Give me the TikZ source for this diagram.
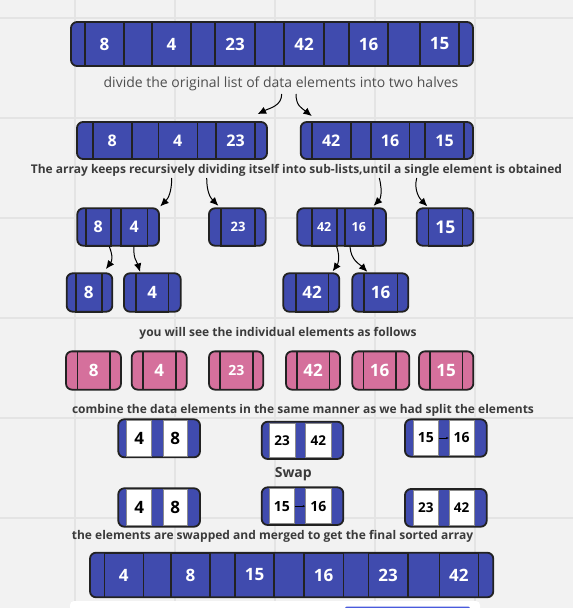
\documentclass[tikz,border=0pt]{standalone}
\usepackage{fontspec}
\setmainfont{Open Sans}
\usetikzlibrary{arrows.meta}
\definecolor{arrblue}{HTML}{404BAE}
\definecolor{arrpink}{HTML}{D5709C}
\definecolor{edgedark}{HTML}{222222}
\definecolor{txtgray}{HTML}{3B3B3B}
\definecolor{gridgray}{HTML}{E4E4E4}
\definecolor{canvasgray}{HTML}{F2F2F2}
\definecolor{barblue}{HTML}{4A5BDC}

\tikzset{
	arrbox/.style={draw=edgedark, line width=1.8pt, rounded corners=6pt, fill=arrblue, inner sep=0pt},
	pinkbox/.style={arrbox, fill=arrpink},
	cell/.style={draw=edgedark, line width=1.6pt, inner sep=0pt, text=white, font=\bfseries\fontsize{17}{17}\selectfont},
	smallcell/.style={cell, font=\bfseries\fontsize{13}{13}\selectfont},
	whitecell/.style={draw=gray!90, line width=0.8pt, fill=white, inner sep=0pt, text=black, font=\bfseries\fontsize{17}{17}\selectfont},
	caption/.style={text=txtgray, font=\bfseries\fontsize{12}{14}\selectfont, anchor=base, inner sep=0pt},
	arr/.style={-{Latex[length=8.5pt,width=7.5pt]}, line width=1pt, black},
}

\begin{document}
\begin{tikzpicture}[x=1pt, y=-1pt]
	\useasboundingbox (0,0) rectangle (573,608);
	\clip (0,0) rectangle (573,608);
	\fill[canvasgray] (0,0) rectangle (573,608);
	\foreach \g in {75,175,275,375,475} \draw[gridgray, line width=1.2pt] (\g,0) -- (\g,608);
	\foreach \g in {18,118,218,318,418,518} \draw[gridgray, line width=1.2pt] (0,\g) -- (573,\g);

	% full list
	\node[arrbox, minimum width=402pt, minimum height=44pt] (r1) at (272,44) {};
	\foreach \x/\w/\v [count=\i] in {104.5/39/8, 171.5/39/4, 235/40/23, 304/40/42, 368.5/39/16, 439.5/39/15}
		\node[cell, minimum width=\w pt, minimum height=44pt] (r1c\i) at (\x,44) {\v};
	\node[caption, font=\fontsize{14}{16}\selectfont, text=txtgray!90] (t1) at (281,87) {divide the original list of data elements into two halves};

	% halves
	\node[arrbox, minimum width=190pt, minimum height=37pt] (r2l) at (172,140.5) {};
	\foreach \x/\w/\v [count=\i] in {112.2/39/8, 177.8/39/4, 235.5/39/23}
		\node[cell, font=\bfseries\fontsize{16}{16}\selectfont, minimum width=\w pt, minimum height=37pt] (r2lc\i) at (\x,140.5) {\v};
	\node[arrbox, minimum width=172.3pt, minimum height=37pt] (r2r) at (386.85,140.5) {};
	\foreach \x/\w/\v [count=\i] in {331.2/39/42, 390/38.6/16, 444.5/39/15}
		\node[cell, font=\bfseries\fontsize{16}{16}\selectfont, minimum width=\w pt, minimum height=37pt] (r2rc\i) at (\x,140.5) {\v};
	\node[caption] (t2) at (296.5,173.3) {The array keeps recursively dividing itself into sub-lists,until a single element is obtained};

	% quarters
	\node[arrbox, minimum width=81.7pt, minimum height=37.4pt] (r3a) at (118.15,227) {};
	\node[cell, font=\bfseries\fontsize{16}{16}\selectfont, minimum width=25pt, minimum height=37.4pt] (r3a1) at (98.2,227) {8};
	\node[cell, font=\bfseries\fontsize{16}{16}\selectfont, minimum width=26.3pt, minimum height=37.4pt] (r3a2) at (134.15,227) {4};
	\node[arrbox, minimum width=56.7pt, minimum height=37.4pt] (r3b) at (237.35,227) {};
	\node[smallcell, minimum width=34pt, minimum height=37.4pt] (r3b1) at (238,227) {23};
	\node[arrbox, minimum width=88.7pt, minimum height=37.4pt] (r3c) at (341.65,227) {};
	\node[smallcell, font=\bfseries\fontsize{12.5}{12.5}\selectfont, minimum width=25pt, minimum height=37.4pt] (r3c1) at (324.2,227) {42};
	\node[smallcell, font=\bfseries\fontsize{12.5}{12.5}\selectfont, minimum width=27.7pt, minimum height=37.4pt] (r3c2) at (358.85,227) {16};
	\node[arrbox, minimum width=56.6pt, minimum height=37.4pt] (r3d) at (445,227) {};
	\node[cell, font=\bfseries\fontsize{17.5}{17.5}\selectfont, minimum width=34pt, minimum height=37.4pt] (r3d1) at (445.3,227) {15};

	% singles
	\node[arrbox, minimum width=45.6pt, minimum height=38.4pt] (r4a) at (89.5,292.5) {};
	\node[cell, minimum width=25.7pt, minimum height=38.4pt] (r4a1) at (88.85,292.5) {8};
	\node[arrbox, minimum width=56.7pt, minimum height=38.4pt] (r4b) at (152.35,292.5) {};
	\node[cell, minimum width=32.3pt, minimum height=38.4pt] (r4b1) at (152.15,292.5) {4};
	\node[arrbox, minimum width=56pt, minimum height=38.4pt] (r4c) at (311.3,292.5) {};
	\node[cell, minimum width=32.6pt, minimum height=38.4pt] (r4c1) at (312,292.5) {42};
	\node[arrbox, minimum width=56pt, minimum height=38.4pt] (r4d) at (380.3,292.5) {};
	\node[cell, minimum width=33.3pt, minimum height=38.4pt] (r4d1) at (380.65,292.5) {16};

	\coordinate (s1) at (281.7,94);
	\coordinate (s2) at (296,94);
	\coordinate (s3) at (171.7,178);
	\coordinate (s4) at (206.7,178);
	\coordinate (s5) at (379.3,178);
	\coordinate (s6) at (416.7,178);
	\draw[arr] (s1) .. controls +(0,12) and +(12,-6) .. ([xshift=-10.3pt,yshift=7pt]r2l.north east);
	\draw[arr] (s2) .. controls +(0,12) and +(-10,-8) .. ([xshift=12pt,yshift=5pt]r2r.north west);
	\draw[arr] (s3) .. controls +(0,14) and +(8,-8) .. ([xshift=0.3pt,yshift=1pt]r3a.north east);
	\draw[arr] (s4) .. controls +(0,14) and +(-8,-8) .. ([xshift=10.3pt,yshift=1.6pt]r3b.north west);
	\draw[arr] (s5) .. controls +(4,16) and +(6,-6) .. ([xshift=-13.3pt,yshift=1.6pt]r3c.north east);
	\draw[arr] (s6) .. controls +(-3,12) and +(-8,-8) .. ([xshift=11.6pt,yshift=1pt]r3d.north west);
	\draw[arr] ([xshift=-8.85pt]r3a.south) .. controls +(4,10) and +(6,-8) .. ([xshift=-7.3pt,yshift=3.3pt]r4a.north east);
	\draw[arr] ([xshift=15.85pt]r3a.south) .. controls +(-1,12) and +(-3,-10) .. ([xshift=17pt,yshift=0.5pt]r4b.north west);
	\draw[arr] ([xshift=-5pt]r3c.south) .. controls +(4,12) and +(5,-7) .. ([xshift=-7.6pt,yshift=1pt]r4c.north east);
	\draw[arr] ([xshift=8.35pt]r3c.south) .. controls +(1,14) and +(-8,-8) .. ([xshift=16pt,yshift=0.5pt]r4d.north west);

	% individual elements
	\node[caption] (t3) at (278,336) {you will see the individual elements as follows};
	\foreach \bx/\bw/\x/\w/\v [count=\i] in {93.5/55/93.65/32.7/8, 159.2/55/159.35/33.3/4, 380.8/57/379.65/32.7/16, 446.15/54.3/446.15/32.3/15, 313/54/313/32.6/42}{
		\node[pinkbox, minimum width=\bw pt, minimum height=38.3pt] (p\i) at (\bx,370.5) {};
		\node[cell, minimum width=\w pt, minimum height=38.3pt] (p\i c) at (\x,370.5) {\v};
	}
	\node[pinkbox, minimum width=54.3pt, minimum height=38.3pt] (p6) at (236.15,370.5) {};
	\node[smallcell, font=\bfseries\fontsize{14}{14}\selectfont, minimum width=32.7pt, minimum height=38.3pt] (p6c) at (236.35,370.5) {23};

	% merging
	\node[caption] (t4) at (303,413.3) {combine the data elements in the same manner as we had split the elements};
	\node[arrbox, minimum width=81.7pt, minimum height=38pt] (m1) at (159.15,438.3) {};
	\node[whitecell, minimum width=25pt, minimum height=35.5pt] (m1a) at (139.2,438.3) {4};
	\node[whitecell, minimum width=24pt, minimum height=35.5pt] (m1b) at (175.3,438.3) {8};
	\node[arrbox, minimum width=81.6pt, minimum height=37.3pt] (m2) at (302.5,440.35) {};
	\node[whitecell, font=\bfseries\fontsize{13.5}{13.5}\selectfont, minimum width=25.7pt, minimum height=34.8pt] (m2a) at (282.15,440.35) {23};
	\node[whitecell, font=\bfseries\fontsize{13.5}{13.5}\selectfont, minimum width=25.3pt, minimum height=34.8pt] (m2b) at (318.35,440.35) {42};
	\node[arrbox, minimum width=81.7pt, minimum height=37.4pt] (m3) at (445.85,438) {};
	\node[whitecell, font=\bfseries\fontsize{14}{14}\selectfont, minimum width=25pt, minimum height=34.9pt] (m3a) at (425.8,438) {15};
	\node[whitecell, font=\bfseries\fontsize{14}{14}\selectfont, minimum width=24.7pt, minimum height=34.9pt] (m3b) at (461.65,438) {16};
	\draw[-{Latex[length=2.5pt,width=2.2pt]}, line width=0.6pt] (m3a.east) -- (m3b.west);

	\node[caption, font=\bfseries\fontsize{14}{15}\selectfont] (swap) at (293.3,477.7) {Swap};

	\node[arrbox, minimum width=81.7pt, minimum height=38.4pt] (n1) at (159.15,507.5) {};
	\node[whitecell, minimum width=25pt, minimum height=35.9pt] (n1a) at (139.2,507.5) {4};
	\node[whitecell, minimum width=24pt, minimum height=35.9pt] (n1b) at (175.3,507.5) {8};
	\node[arrbox, minimum width=81.6pt, minimum height=37.7pt] (n2) at (302.5,506.15) {};
	\node[whitecell, font=\bfseries\fontsize{14}{14}\selectfont, minimum width=25pt, minimum height=35.2pt] (n2a) at (281.8,506.15) {15};
	\node[whitecell, font=\bfseries\fontsize{14}{14}\selectfont, minimum width=25.3pt, minimum height=35.2pt] (n2b) at (318.35,506.15) {16};
	\draw[-{Latex[length=2.5pt,width=2.2pt]}, line width=0.6pt] (n2a.east) -- (n2b.west);
	\node[arrbox, minimum width=81.7pt, minimum height=37.7pt] (n3) at (445.85,507.85) {};
	\node[whitecell, font=\bfseries\fontsize{13.5}{13.5}\selectfont, minimum width=25pt, minimum height=35.2pt] (n3a) at (425.8,507.85) {23};
	\node[whitecell, font=\bfseries\fontsize{13.5}{13.5}\selectfont, minimum width=24.7pt, minimum height=35.2pt] (n3b) at (461.65,507.85) {42};

	% sorted list
	\node[caption] (t5) at (272.5,539.3) {the elements are swapped and merged to get the final sorted array};
	\node[arrbox, minimum width=403.3pt, minimum height=44.6pt] (r8) at (291.65,575) {};
	\foreach \x/\w/\v [count=\i] in {123.8/39/4, 190.5/39/8, 254.5/39/15, 323.65/39.3/16, 388/39.4/23, 458.8/39/42}
		\node[cell, minimum width=\w pt, minimum height=44.6pt] (r8c\i) at (\x,575) {\v};

	\fill[white, rounded corners=4pt] (70,601) rectangle (480,616);
	\fill[barblue, rounded corners=2pt] (345,606.5) rectangle (470,614);
\end{tikzpicture}
\end{document}
